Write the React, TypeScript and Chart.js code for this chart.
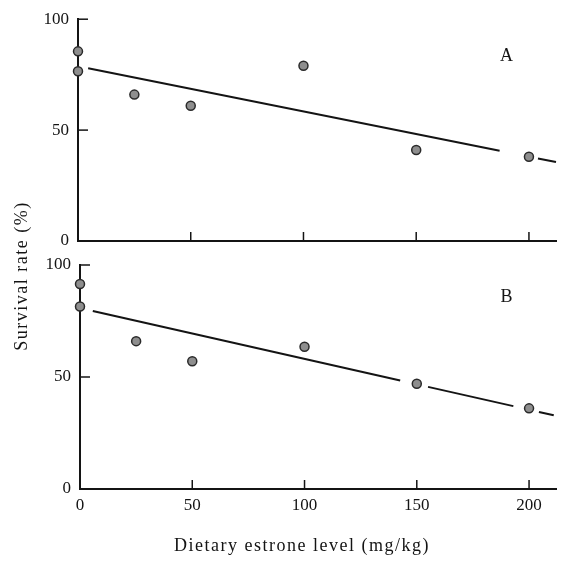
import React, { useEffect, useRef } from 'react';
import { Chart, registerables } from 'chart.js';

Chart.register(...registerables);

// ---- data ----
const xTickValues = [0, 50, 100, 150, 200];
const yTickValues = [0, 50, 100];

const doseA = [0, 0, 25, 50, 100, 150, 200];
const survivalA = [85.5, 76.5, 66, 61, 79, 41, 38];
const doseB = [0, 0, 25, 50, 100, 150, 200];
const survivalB = [91.5, 81.5, 66, 57, 63.5, 47, 36];

// regression line pieces (x start/end, y start/end)
const fitAx = [[4.5, 187], [204, 212]];
const fitAy = [[77.9, 40.7], [37.2, 35.6]];
const fitBx = [[5.7, 142.6], [155, 193], [204.4, 211]];
const fitBy = [[79.5, 48.4], [45.6, 37.0], [34.4, 32.9]];

const panelLabels = ['A', 'B'];
const panelLabelPos = [{ x: 190, y: 83.5 }, { x: 190, y: 85.5 }];

const yTitle = 'Survival rate (%)';
const xTitle = 'Dietary estrone level (mg/kg)';

const FONT = "'Liberation Serif', 'Times New Roman', serif";
const INK = '#141414';

const inwardTicks = {
  id: 'inwardTicks',
  beforeDatasetsDraw(chart: any) {
    const { ctx } = chart;
    const xs = chart.scales.x;
    const ys = chart.scales.y;
    ctx.save();
    ctx.strokeStyle = INK;
    ctx.lineWidth = 1.5;
    xTickValues.forEach((v) => {
      if (v === 0) return;
      const px = xs.getPixelForValue(v);
      ctx.beginPath();
      ctx.moveTo(px, ys.bottom);
      ctx.lineTo(px, ys.bottom - 9);
      ctx.stroke();
    });
    yTickValues.forEach((v) => {
      if (v === 0) return;
      const py = ys.getPixelForValue(v);
      ctx.beginPath();
      ctx.moveTo(xs.left, py);
      ctx.lineTo(xs.left + 10, py);
      ctx.stroke();
    });
    ctx.restore();
  },
};

const panelLabelPlugin = {
  id: 'panelLabel',
  afterDraw(chart: any, _args: any, opts: any) {
    const { ctx } = chart;
    const xs = chart.scales.x;
    const ys = chart.scales.y;
    ctx.save();
    ctx.fillStyle = INK;
    ctx.font = `18px ${FONT}`;
    ctx.textAlign = 'center';
    ctx.textBaseline = 'middle';
    ctx.fillText(opts.text, xs.getPixelForValue(opts.x), ys.getPixelForValue(opts.y));
    ctx.restore();
  },
};

const titlesPlugin = {
  id: 'titles',
  afterDraw(chart: any, _args: any, opts: any) {
    if (!opts.show) return;
    const { ctx } = chart;
    ctx.save();
    ctx.fillStyle = INK;
    ctx.font = `18px ${FONT}`;
    (ctx as any).letterSpacing = '1.5px';
    ctx.textAlign = 'center';
    ctx.textBaseline = 'middle';
    ctx.fillText(xTitle, 302, 546);
    ctx.translate(22, 276);
    ctx.rotate(-Math.PI / 2);
    ctx.fillText(yTitle, 0, 0);
    ctx.restore();
  },
};

function buildConfig(
  dose: number[],
  surv: number[],
  fx: number[][],
  fy: number[][],
  idx: number,
  opts: { padTop: number; padRight: number; padBottom: number; yWidth: number; xHeight: number; showXLabels: boolean }
): any {
  const lineSets = fx.map((xs, i) => ({
    type: 'line',
    data: [
      { x: xs[0], y: fy[i][0] },
      { x: xs[1], y: fy[i][1] },
    ],
    borderColor: INK,
    borderWidth: 2,
    pointRadius: 0,
    fill: false,
    clip: false,
    showLine: true,
    order: 2,
  }));
  return {
    type: 'scatter',
    data: {
      datasets: [
        {
          data: dose.map((d, i) => ({ x: d, y: surv[i] })),
          backgroundColor: '#8e8e8e',
          borderColor: '#2a2a2a',
          borderWidth: 1.5,
          pointRadius: 4.5,
          clip: false,
          order: 1,
        },
        ...lineSets,
      ],
    },
    options: {
      responsive: false,
      animation: false,
      events: [],
      layout: { padding: { top: opts.padTop, right: opts.padRight, bottom: opts.padBottom, left: 0 } },
      plugins: {
        legend: { display: false },
        tooltip: { enabled: false },
        panelLabel: { text: panelLabels[idx], x: panelLabelPos[idx].x, y: panelLabelPos[idx].y },
        titles: { show: idx === 1 },
      },
      scales: {
        x: {
          type: 'linear',
          min: 0,
          max: 212,
          afterFit: (s: any) => {
            s.height = opts.xHeight;
          },
          border: { display: true, color: INK, width: 2 },
          grid: { display: true, drawOnChartArea: false, drawTicks: false, color: 'rgba(0,0,0,0)' },
          ticks: {
            display: opts.showXLabels,
            stepSize: 50,
            includeBounds: false,
            padding: 6,
            color: INK,
            font: { family: FONT, size: 17 },
            maxRotation: 0,
          },
        },
        y: {
          type: 'linear',
          min: 0,
          max: 100,
          afterFit: (s: any) => {
            s.width = opts.yWidth;
          },
          border: { display: true, color: INK, width: 2 },
          grid: { display: true, drawOnChartArea: false, drawTicks: false, color: 'rgba(0,0,0,0)' },
          ticks: {
            stepSize: 50,
            padding: 9,
            color: INK,
            font: { family: FONT, size: 17 },
          },
        },
      },
    },
    plugins: [inwardTicks, panelLabelPlugin, titlesPlugin],
  };
}

export default function App() {
  const refA = useRef<HTMLCanvasElement | null>(null);
  const refB = useRef<HTMLCanvasElement | null>(null);

  useEffect(() => {
    if (!refA.current || !refB.current) return;
    const a = new Chart(
      refA.current,
      buildConfig(doseA, survivalA, fitAx, fitAy, 0, {
        padTop: 15,
        padRight: 5,
        padBottom: 323,
        yWidth: 78,
        xHeight: 0,
        showXLabels: false,
      })
    );
    const b = new Chart(
      refB.current,
      buildConfig(doseB, survivalB, fitBx, fitBy, 1, {
        padTop: 265,
        padRight: 2,
        padBottom: 0,
        yWidth: 80,
        xHeight: 75,
        showXLabels: true,
      })
    );
    return () => {
      a.destroy();
      b.destroy();
    };
  }, []);

  return (
    <div style={{ position: 'absolute', left: 0, top: 0, width: 562, height: 564, background: '#fff' }}>
      <canvas ref={refA} width={562} height={564} style={{ position: 'absolute', left: 0, top: 0 }} />
      <canvas ref={refB} width={562} height={564} style={{ position: 'absolute', left: 0, top: 0 }} />
    </div>
  );
}
